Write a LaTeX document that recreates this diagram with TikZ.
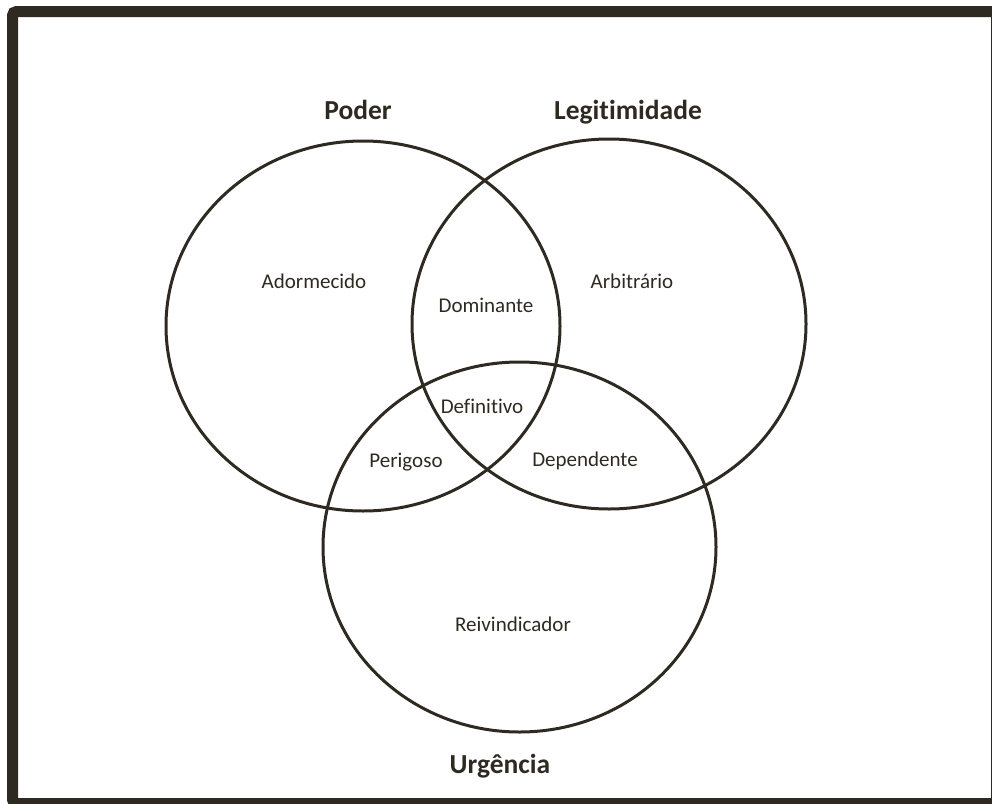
\documentclass[tikz,border=0pt]{standalone}
\usepackage{fontspec}
\setmainfont[RawFeature={-liga;-clig;-dlig}]{Carlito}
\definecolor{ink}{HTML}{2F2A21}
\begin{document}
\begin{tikzpicture}[x=1pt,y=-1pt,
  ring/.style={draw=ink,line width=3pt},
  label/.style={text=ink,font=\fontsize{21}{25}\selectfont,inner sep=0pt,anchor=base},
  head/.style={text=ink,font=\fontsize{27.5}{32}\selectfont\bfseries,inner sep=0pt,anchor=base}]
\useasboundingbox (0,0) rectangle (992,803);
\begin{scope}
\clip (0,0) rectangle (992,803);
% outer frame, partly cut off at right and bottom
\draw[draw=ink,line width=11pt,rounded corners=4pt] (12.5,11.5) rectangle (996.5,803.5);
\end{scope}
% the three sets
\draw[ring] (363,326) ellipse [x radius=197,y radius=185];
\draw[ring] (609,324) ellipse [x radius=197,y radius=185];
\draw[ring] (519.5,547) ellipse [x radius=196.5,y radius=185];
% set titles
\node[head] (poder) at (358,119) {Poder};
\node[head] (legit) at (628,119) {Legitimidade};
\node[head] (urg) at (500,773) {Urgência};
% region labels
\node[label] (adorm) at (314,288) {Adormecido};
\node[label] (domin) at (486,312) {Dominante};
\node[label] (arbit) at (632,288) {Arbitrário};
\node[label] (defin) at (482,413) {Definitivo};
\node[label] (perig) at (406,467) {Perigoso};
\node[label] (depen) at (585,466) {Dependente};
\node[label] (reivi) at (513,631) {Reivindicador};
\end{tikzpicture}
\end{document}
